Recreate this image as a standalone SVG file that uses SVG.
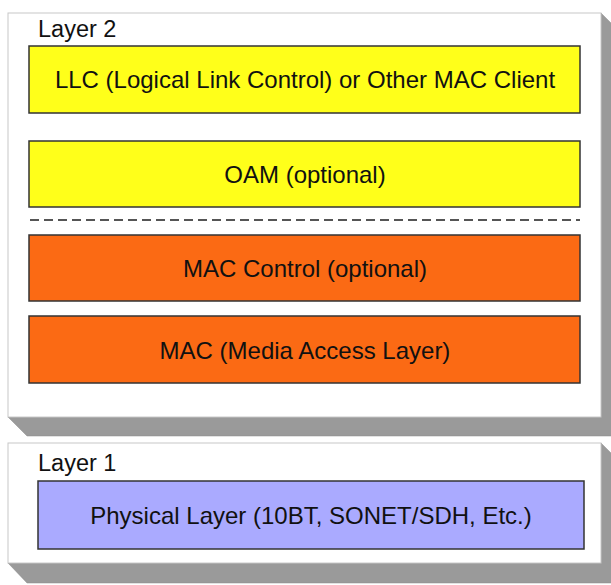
<svg xmlns="http://www.w3.org/2000/svg" width="611" height="585" viewBox="0 0 611 585">
<style>
.front{fill:#ffffff;stroke:#c8c8c8;stroke-width:1}
.side{fill:#9a9a9a;stroke:#8a8a8a;stroke-width:0.5}
.box{stroke:#333333;stroke-width:1.5}
.yellow{fill:#ffff1a}
.orange{fill:#fb6a14}
.blue{fill:#aaaaff}
.lbl{font-family:"Liberation Sans",Arial,sans-serif;font-size:23.5px;fill:#111}
.txt{font-family:"Liberation Sans",Arial,sans-serif;font-size:24px;fill:#111;text-anchor:middle}
.dash{stroke:#555;stroke-width:2;stroke-dasharray:9,5;fill:none}
</style>
<g id="layer2">
<polygon class="side" points="8,417 601,417 601,13 620,32 620,436 27,436"/>
<rect class="front" x="8" y="13" width="593" height="404"/>
<text class="lbl" x="38" y="37">Layer 2</text>
</g>
<g id="llc">
<rect class="box yellow" x="29" y="46" width="551" height="67"/>
<text class="txt" x="305" y="88">LLC (Logical Link Control) or Other MAC Client</text>
</g>
<g id="oam">
<rect class="box yellow" x="29" y="141" width="551" height="66"/>
<text class="txt" x="305" y="183">OAM (optional)</text>
</g>
<g id="connectors">
<line class="dash" x1="30" y1="220" x2="580" y2="220"/>
</g>
<g id="macctrl">
<rect class="box orange" x="29" y="235" width="551" height="66"/>
<text class="txt" x="305" y="277">MAC Control (optional)</text>
</g>
<g id="mac">
<rect class="box orange" x="29" y="316" width="551" height="67"/>
<text class="txt" x="305" y="359">MAC (Media Access Layer)</text>
</g>
<g id="layer1">
<polygon class="side" points="8,563 601,563 601,443 620,462 620,583 27,583"/>
<rect class="front" x="8" y="443" width="593" height="120"/>
<text class="lbl" x="38" y="471">Layer 1</text>
</g>
<g id="physical">
<rect class="box blue" x="38" y="481" width="546" height="68"/>
<text class="txt" x="311" y="524">Physical Layer (10BT, SONET/SDH, Etc.)</text>
</g>
</svg>
